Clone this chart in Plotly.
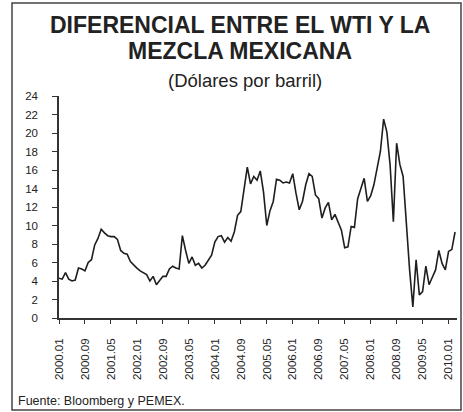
import plotly.graph_objects as go

# Monthly differential WTI - Mezcla Mexicana, 2000.01 .. 2010.03 (USD per barrel)
values = [
    4.3, 4.2, 4.9, 4.2, 4.0, 4.1, 5.4, 5.3, 5.1, 6.0, 6.3, 7.9,          # 2000
    8.6, 9.6, 9.2, 8.9, 8.8, 8.8, 8.5, 7.3, 7.0, 6.9, 6.1, 5.7,          # 2001
    5.4, 5.1, 4.9, 4.7, 4.0, 4.5, 3.6, 4.1, 4.5, 4.5, 5.3, 5.6,          # 2002
    5.4, 5.3, 8.9, 7.3, 5.9, 6.6, 5.7, 5.9, 5.4, 5.7, 6.3, 6.8,          # 2003
    8.2, 8.8, 8.9, 8.2, 8.7, 8.3, 9.3, 11.1, 11.5, 14.2, 16.3, 14.5,     # 2004
    15.3, 14.9, 15.9, 13.6, 10.0, 11.6, 12.6, 15.0, 14.9, 14.6, 14.7, 14.6,  # 2005
    15.6, 13.5, 11.7, 12.6, 14.4, 15.6, 15.3, 13.3, 12.9, 10.8, 11.9, 12.5,  # 2006
    10.6, 11.2, 10.3, 9.5, 7.6, 7.7, 9.9, 9.8, 12.9, 14.0, 15.1, 12.6,   # 2007
    13.2, 14.4, 16.2, 18.0, 21.5, 20.1, 16.5, 10.4, 18.9, 16.6, 15.3, 9.9,  # 2008
    5.2, 1.2, 6.3, 2.5, 2.85, 5.6, 3.6, 4.4, 5.2, 7.3, 5.9, 5.2,         # 2009
    7.2, 7.4, 9.3,                                                        # 2010
]

months = []
for i in range(len(values)):
    y = 2000 + i // 12
    m = i % 12 + 1
    months.append(f"{y}.{m:02d}")

x_idx = list(range(len(values)))
tick_idx = list(range(0, len(values), 8))
tick_labels = [months[i] for i in tick_idx]

y_ticks = list(range(0, 25, 2))

FONT = "Liberation Sans, Arial, sans-serif"
W, H = 463, 412
L, R, T, B = 59, 6, 96, 94
PW, PH = W - L - R, H - T - B

def px(x):
    return (x - L) / PW

def py(y):
    return (H - B - y) / PH

fig = go.Figure()
fig.add_trace(go.Scatter(
    x=x_idx, y=values, mode="lines",
    line=dict(color="#1e1e1e", width=1.6),
    hoverinfo="skip", showlegend=False,
))

fig.update_layout(
    width=W, height=H,
    margin=dict(l=L, r=R, t=T, b=B, pad=0),
    paper_bgcolor="white", plot_bgcolor="white",
    font=dict(family=FONT, size=11.5, color="#222"),
    showlegend=False,
    xaxis=dict(
        range=[0, 122.6], tickmode="array", tickvals=tick_idx, ticktext=tick_labels,
        tickangle=-90, ticks="outside", ticklen=4, tickcolor="#333", tickwidth=1,
        showline=True, linecolor="#333", linewidth=1.5, showgrid=False, zeroline=False,
        ticklabelstandoff=10, tickfont=dict(family=FONT, size=11.5, color="#222"),
    ),
    yaxis=dict(
        range=[0, 24], tickmode="array", tickvals=y_ticks,
        ticks="outside", ticklen=5, tickcolor="#333", tickwidth=1,
        showline=True, linecolor="#333", linewidth=1.5, showgrid=False, zeroline=False,
        ticklabelstandoff=12, tickfont=dict(family=FONT, size=11.5, color="#222"),
    ),
)

annos = [
    dict(text="<b>DIFERENCIAL ENTRE EL WTI Y LA</b>", x=px(240), y=py(25), size=23),
    dict(text="<b>MEZCLA MEXICANA</b>", x=px(240), y=py(51), size=23),
    dict(text="(Dólares por barril)", x=px(245), y=py(80), size=18.5),
]
for a in annos:
    fig.add_annotation(
        text=a["text"], x=a["x"], y=a["y"], xref="paper", yref="paper",
        xanchor="center", yanchor="middle", showarrow=False,
        font=dict(family=FONT, size=a["size"], color="#222"),
    )

fig.add_annotation(
    text="Fuente: Bloomberg y PEMEX.", x=px(16), y=py(401), xref="paper", yref="paper",
    xanchor="left", yanchor="middle", showarrow=False,
    font=dict(family=FONT, size=12.5, color="#222"),
)

# outer frame
fig.add_shape(type="rect", xref="paper", yref="paper",
              x0=px(12), x1=px(461), y0=py(410), y1=py(3),
              line=dict(color="#444", width=1.5), fillcolor="rgba(0,0,0,0)", layer="below")

fig.write_html(
    "out.html",
    config={"displayModeBar": False},
    post_script="document.body.style.margin='0';document.body.style.overflow='hidden';",
)
